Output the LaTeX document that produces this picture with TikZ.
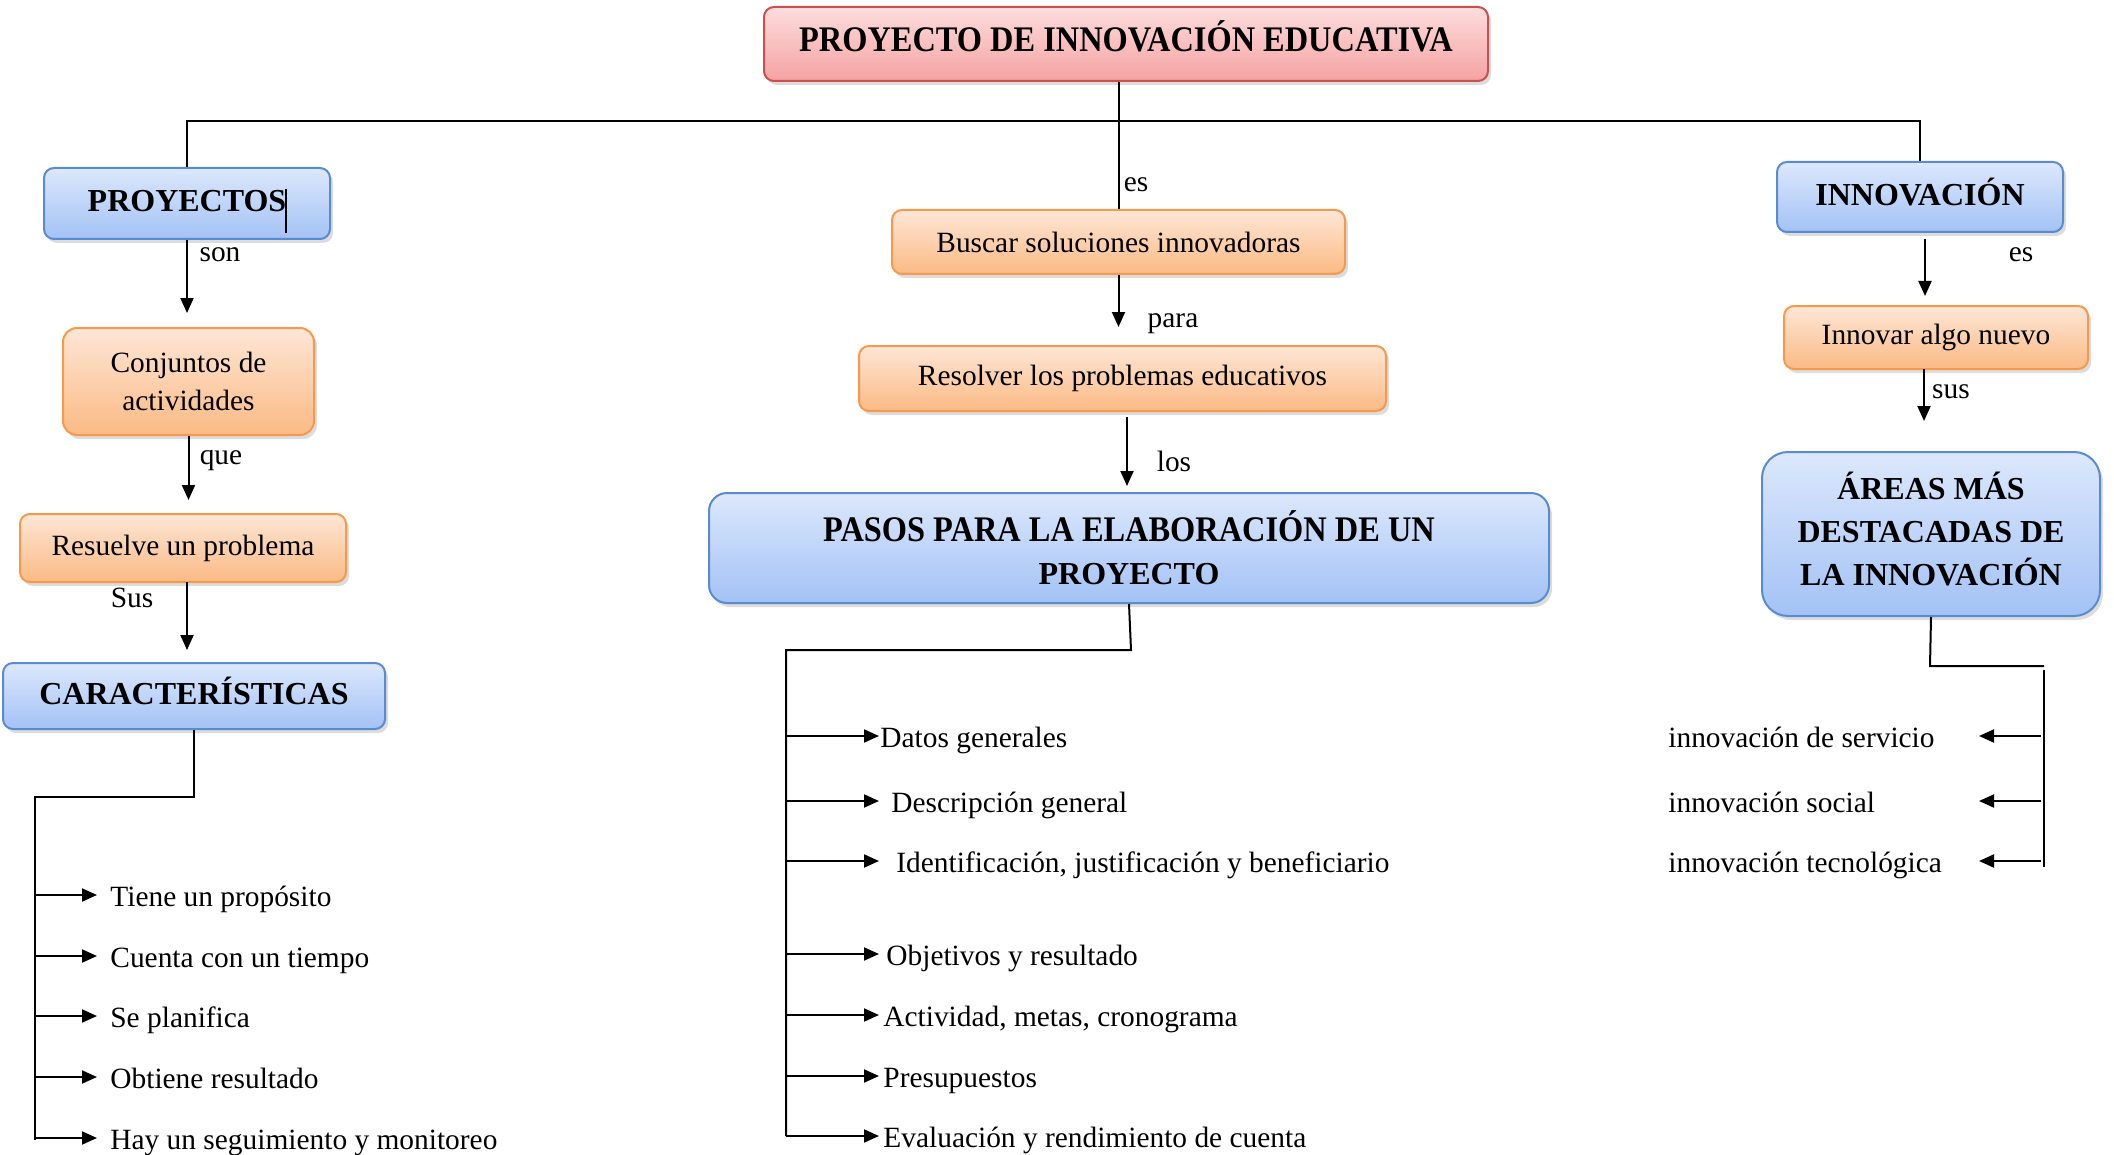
\documentclass[tikz,border=0pt]{standalone}
\usepackage{fontspec}
\setmainfont{Liberation Serif}
\newfontfamily\condfont[FakeStretch=0.9]{Liberation Serif}
\usetikzlibrary{shadows,arrows.meta,calc}
\definecolor{bluetop}{HTML}{DCE8FC}
\definecolor{bluebot}{HTML}{A3C2F5}
\definecolor{bluedraw}{HTML}{5A8AD0}
\definecolor{ortop}{HTML}{FDE6D6}
\definecolor{orbot}{HTML}{FBBA84}
\definecolor{ordraw}{HTML}{F7994C}
\definecolor{redtop}{HTML}{FDDDDD}
\definecolor{redbot}{HTML}{F5A2A2}
\definecolor{reddraw}{HTML}{C8504D}
\tikzset{
  box/.style={draw, line width=1pt, rounded corners=5pt, align=center, inner sep=2pt,
    drop shadow={shadow xshift=1.5pt, shadow yshift=-2pt, opacity=0.28}},
  bluebox/.style={box, draw=bluedraw, top color=bluetop, bottom color=bluebot,
    font=\fontsize{16}{21.3}\selectfont\bfseries},
  capfix/.style={text height=10.6pt, text depth=2.2pt},
  orbox/.style={box, draw=ordraw, top color=ortop, bottom color=orbot,
    font=\fontsize{14.7}{19}\selectfont},
  redbox/.style={box, draw=reddraw, top color=redtop, bottom color=redbot},
  item/.style={inner sep=0pt, anchor=base west, font=\fontsize{14.7}{19}\selectfont},
  lbl/.style={inner sep=0pt, font=\fontsize{14.7}{19}\selectfont},
  ln/.style={line width=1pt},
  arr/.style={line width=1pt, -{Triangle[length=7.5pt,width=6.5pt]}}
}
\begin{document}
\begin{tikzpicture}[x=0.5pt,y=-0.5pt]
\useasboundingbox (0,0) rectangle (2114,1155);

% boxes
\node[redbox, minimum width=362pt, minimum height=37pt, text height=12pt, text depth=4.8pt] (title) at (1126,44)
  {\condfont\fontsize{18}{22}\selectfont\bfseries PROYECTO DE INNOVACIÓN EDUCATIVA};
\node[bluebox, capfix, minimum width=143pt, minimum height=35.5pt] (proy) at (187,203.5) {PROYECTOS};
\node[orbox, rounded corners=7pt, minimum width=125.5pt, minimum height=53.5pt] (conj) at (188.5,381.5) {Conjuntos de\\actividades};
\node[orbox, minimum width=163pt, minimum height=34pt] (resu) at (183,548) {Resuelve un problema};
\node[bluebox, capfix, minimum width=191pt, minimum height=33pt] (carac) at (194,696) {CARACTERÍSTICAS};

\node[orbox, minimum width=226.5pt, minimum height=32pt] (busc) at (1118.5,242) {Buscar soluciones innovadoras};
\node[orbox, minimum width=263.5pt, minimum height=32.5pt] (reso) at (1122.5,378.5) {Resolver los problemas educativos};
\node[bluebox, rounded corners=9pt, minimum width=420pt, minimum height=55pt] (pasos) at (1129,548)
  {\condfont\fontsize{18}{21.5}\selectfont\bfseries PASOS PARA LA ELABORACIÓN DE UN\\PROYECTO};

\node[bluebox, capfix, minimum width=143pt, minimum height=35pt] (innov) at (1920,197) {INNOVACIÓN};
\node[orbox, minimum width=152pt, minimum height=31.5pt] (innovar) at (1936,337.5) {Innovar algo nuevo};
\node[bluebox, rounded corners=13pt, minimum width=169pt, minimum height=82pt] (areas) at (1931,534)
  {\raisebox{2.2pt}{\begin{tabular}{@{}c@{}}ÁREAS MÁS\\DESTACADAS DE\\LA INNOVACIÓN\end{tabular}}};

% top connectors
\coordinate (hl) at (1126,121);
\draw[ln] (proy.north) -- (proy.north |- hl) -- (innov.north |- hl) -- (innov.north);
\draw[ln] (busc.north |- title.south) -- (busc.north);
\draw[ln] (286,189) -- (286,233);

% left chain
\draw[arr, shorten >=7pt] (proy.south) -- (proy.south |- conj.north);
\draw[arr, shorten >=6.5pt] (conj.south) -- (conj.south |- resu.north);
\coordinate (sustop) at (187,582);
\draw[arr, shorten >=6pt] (sustop) -- (sustop |- carac.north);
\node[lbl] (lson) at (220,255) {son};
\node[lbl] (lque) at (221,461) {que};
\node[lbl] (lsus) at (132,598) {Sus};

% middle chain
\draw[arr, shorten >=9pt] (busc.south) -- (busc.south |- reso.north);
\coordinate (lostop) at (1127,411);
\draw[arr, shorten <=3pt, shorten >=3pt] (lostop) -- (lostop |- pasos.north);
\node[lbl] (les) at (1136,185) {es};
\node[lbl] (lpara) at (1173,324) {para};
\node[lbl] (llos) at (1174,461) {los};

% right chain
\coordinate (estop) at (1925,232);
\draw[arr, shorten <=3.5pt, shorten >=4.5pt] (estop) -- (estop |- innovar.north);
\coordinate (sustop2) at (1924,369);
\draw[arr, shorten >=15pt] (sustop2) -- (sustop2 |- areas.north);
\node[lbl] (les2) at (2021,255) {es};
\node[lbl] (lsus2) at (1951,392) {sus};

% left list
\coordinate (lj) at (194,797);
\coordinate (ls) at (35,797);
\coordinate (le) at (35,1140);
\draw[ln] (carac.south) -- (lj) -- (ls) -- (le);
\foreach \y/\t [count=\i] in {895/Tiene un propósito, 956/Cuenta con un tiempo, 1016/Se planifica, 1077/Obtiene resultado, 1138/Hay un seguimiento y monitoreo}{
  \coordinate (lt\i) at (97,\y);
  \node[item] (li\i) at ($(lt\i)+(13,11)$) {\t};
  \draw[arr] (ls |- lt\i) -- (lt\i);
}

% middle list
\coordinate (mj) at (1131,650);
\coordinate (ms) at (786,650);
\coordinate (me) at (786,1136);
\draw[ln] (pasos.south) -- (mj) -- (ms) -- (me);
\foreach \y/\dx/\t [count=\i] in {736/1/Datos generales, 801/12/Descripción general, 861/17/{Identificación, justificación y beneficiario}, 954/7/Objetivos y resultado, 1015/4/{Actividad, metas, cronograma}, 1076/4/Presupuestos, 1136/4/Evaluación y rendimiento de cuenta}{
  \coordinate (mt\i) at (879,\y);
  \node[item] (mi\i) at ($(mt\i)+(\dx,11)$) {\t};
  \draw[arr] (ms |- mt\i) -- (mt\i);
}

% right list
\coordinate (rj) at (1930,666);
\coordinate (rc) at (2044,666);
\coordinate (rs) at (2044,670);
\coordinate (re) at (2044,867);
\draw[ln] (areas.south) -- (rj) -- (rc);
\draw[ln] (rs) -- (re);
\foreach \y/\t [count=\i] in {736/innovación de servicio, 801/innovación social, 861/innovación tecnológica}{
  \coordinate (rt\i) at (1979,\y);
  \coordinate (rf\i) at (2041,\y);
  \node[item] (ri\i) at (1668,\y+11) {\t};
  \draw[arr] (rf\i) -- (rt\i);
}
\end{tikzpicture}
\end{document}
